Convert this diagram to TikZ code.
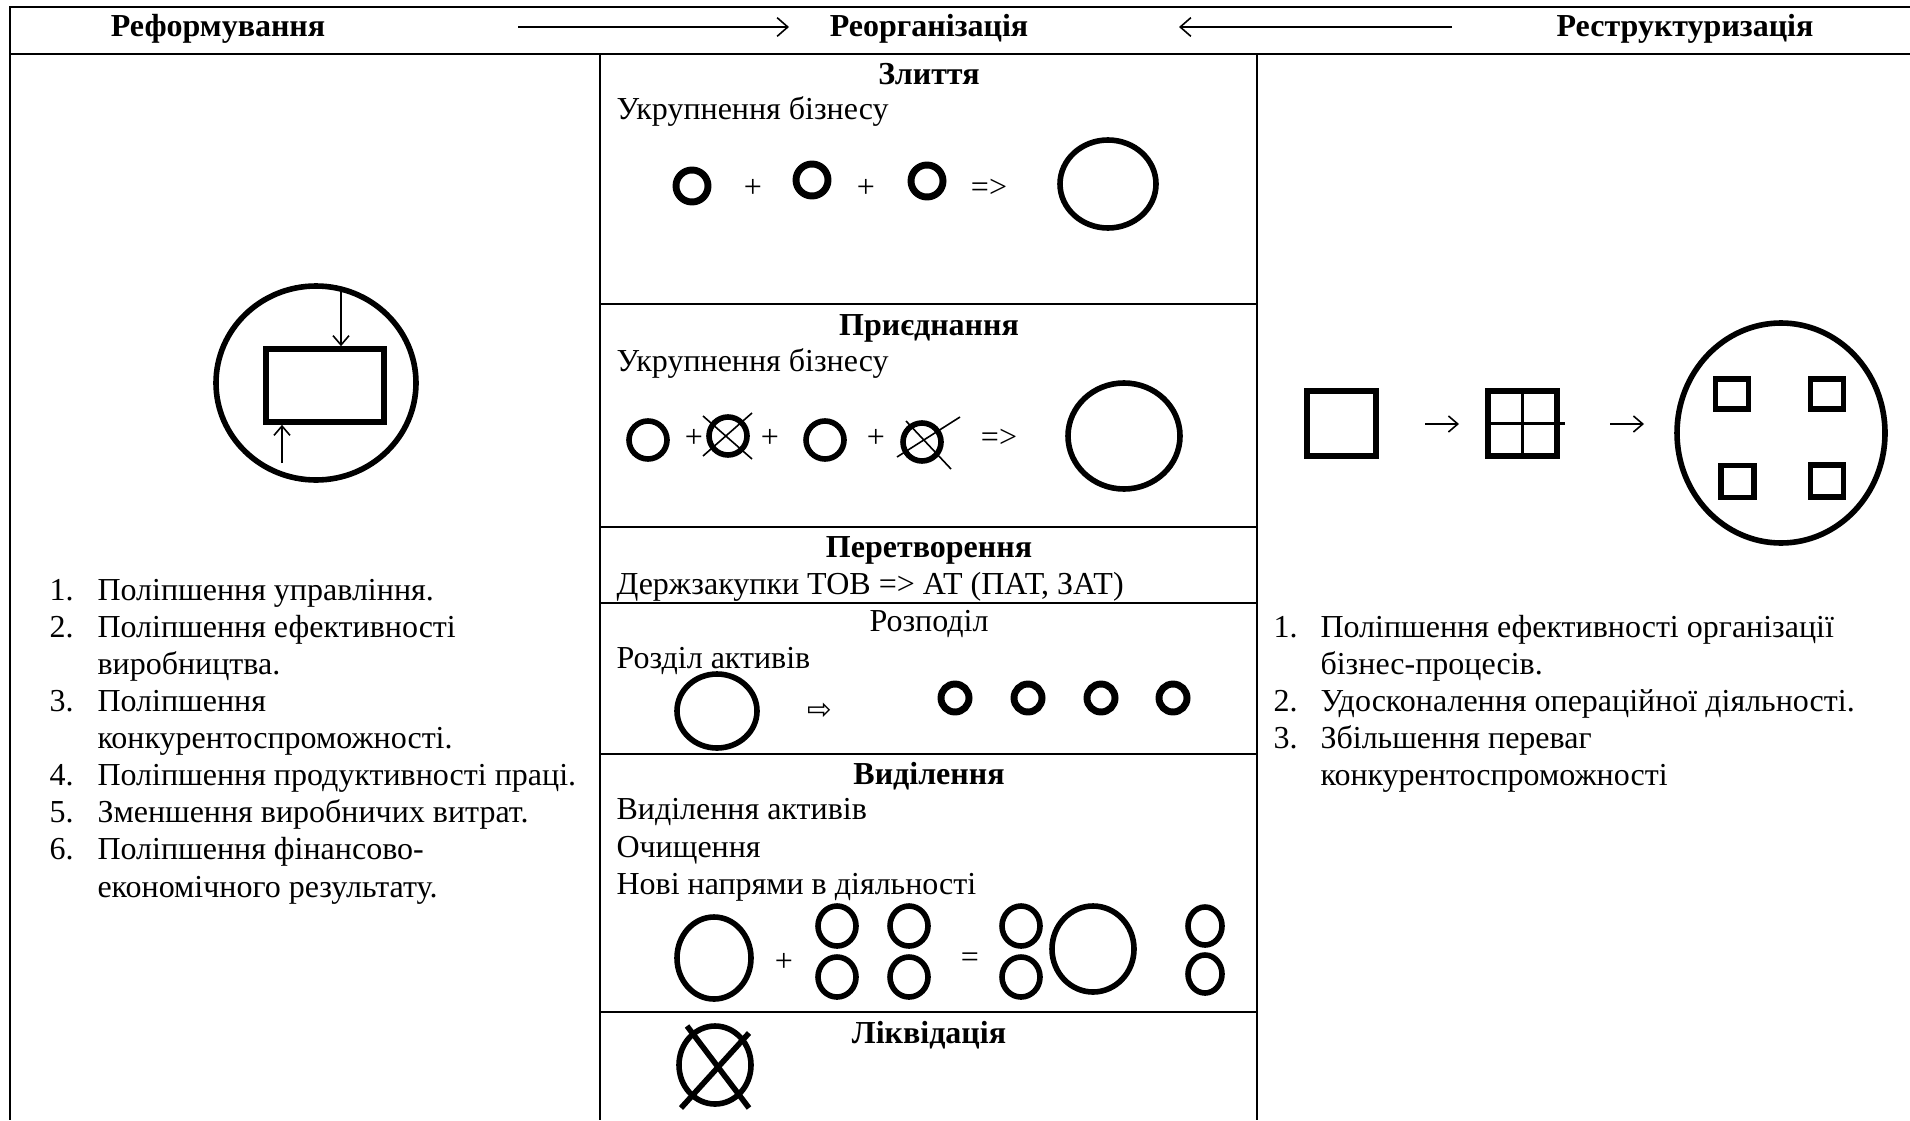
\documentclass[tikz,border=0pt]{standalone}
\usepackage{fontspec}
\setmainfont{Liberation Serif}[Scale=1.2]
\newfontfamily\symfont{DejaVu Sans}
\usetikzlibrary{arrows.meta,shapes.geometric}

% ring: #1 name, #2 position, #3 x-radius, #4 y-radius (in px units)
\newcommand\ringat[4]{\node[ring, minimum width=#3*0.75pt, minimum height=#4*0.75pt] (#1) at #2 {};}
\newcommand\dotat[4]{\node[ring, bold ring, minimum width=#3*0.75pt, minimum height=#4*0.75pt] (#1) at #2 {};}
\newcommand\boxat[4]{\node[sqbox, minimum width=#3*0.375pt, minimum height=#4*0.375pt] (#1) at #2 {};}

\begin{document}
\begin{tikzpicture}[x=0.375pt,y=-0.375pt,
  rule/.style={line width=1.1pt},
  ring/.style={draw, ellipse, line width=2.1pt, inner sep=0pt},
  bold ring/.style={line width=2.6pt},
  sqbox/.style={draw, rectangle, line width=2.1pt, inner sep=0pt},
  head/.style={font=\bfseries, anchor=base, inner sep=0pt},
  txt/.style={anchor=base west, inner sep=0pt},
  num/.style={anchor=base west, inner sep=0pt},
  sign/.style={inner sep=0pt},
  barb/.style={-{Straight Barb[length=4pt,width=7pt]}, line width=0.6pt},
  small barb/.style={-{Straight Barb[length=3.5pt,width=6pt]}, line width=0.6pt},
  cross/.style={line width=0.6pt},
  heavy cross/.style={line width=2.1pt}
]
\useasboundingbox (0,0) rectangle (1910,1120);
\fill[white] (0,0) rectangle (1910,1120);

% ---------- table grid ----------
\draw[rule] (1910,7) -- (10,7) -- (10,1120);
\draw[rule] (10,54) -- (1910,54);
\draw[rule] (600,54) -- (600,1120);
\draw[rule] (1257,54) -- (1257,1120);
\foreach \yy in {304,527,603,754,1012}
  \draw[rule] (600,\yy) -- (1257,\yy);

% ---------- header row ----------
\node[head] (hRef) at (218,37) {Реформування};
\node[head] (hReo) at (929,37) {Реорганізація};
\node[head] (hRes) at (1685,37) {Реструктуризація};
\coordinate (a1s) at (518,27);
\coordinate (a1e) at (789,27);
\coordinate (a2s) at (1452,27);
\coordinate (a2e) at (1179,27);
\draw[barb] (a1s) -- (a1e);
\draw[barb] (a2s) -- (a2e);

% ---------- left column: reforming ----------
\ringat{refRing}{(316,383)}{100}{97}
\node[sqbox, minimum width=118*0.375pt, minimum height=73*0.375pt] (refBox) at (325,385.5) {};
\coordinate (inTop) at (341,287);
\coordinate (inBot) at (282,463);
\draw[small barb] (inTop) -- (inTop |- refBox.north);
\draw[small barb] (inBot) -- (inBot |- refBox.south);

\node[num] (l1n) at (49,600) {1.};
\node[txt] (l1t) at (97,600) {Поліпшення управління.};
\node[num] (l2n) at (49,637) {2.};
\node[txt] (l2t) at (97,637) {Поліпшення ефективності};
\node[txt] (l2u) at (97,674) {виробництва.};
\node[num] (l3n) at (49,711) {3.};
\node[txt] (l3t) at (97,711) {Поліпшення};
\node[txt] (l3u) at (97,748) {конкурентоспроможності.};
\node[num] (l4n) at (49,785) {4.};
\node[txt] (l4t) at (97,785) {Поліпшення продуктивності праці.};
\node[num] (l5n) at (49,822) {5.};
\node[txt] (l5t) at (97,822) {Зменшення виробничих витрат.};
\node[num] (l6n) at (49,859) {6.};
\node[txt] (l6t) at (97,859) {Поліпшення фінансово-};
\node[txt] (l6u) at (97,897) {економічного результату.};

% ---------- middle column: reorganisation ----------
% merger
\node[head] (mergeH) at (929,85) {Злиття};
\node[txt] (mergeT) at (616,120) {Укрупнення бізнесу};
\dotat{mA}{(692,186)}{16}{16}
\node[sign] (mP1) at (753,188) {+};
\dotat{mB}{(812,180)}{16}{16}
\node[sign] (mP2) at (866,188) {+};
\dotat{mC}{(927,181)}{16}{16}
\node[sign] (mImp) at (989,188) {=>};
\ringat{mBig}{(1108,184)}{48}{44}

% accession
\node[head] (accH) at (929,335) {Приєднання};
\node[txt] (accT) at (616,371) {Укрупнення бізнесу};
\ringat{aA}{(648,440)}{19}{19}
\node[sign] (aP1) at (694,438) {+};
\ringat{aX}{(728,436)}{19}{19}
\draw[cross] ([shift={(-25,-20)}]aX.center) -- ([shift={(24,23)}]aX.center);
\draw[cross] ([shift={(-25,20)}]aX.center) -- ([shift={(24,-23)}]aX.center);
\node[sign] (aP2) at (770,438) {+};
\ringat{aB}{(825,440)}{19}{19}
\node[sign] (aP3) at (876,438) {+};
\ringat{aY}{(922,442)}{19}{19}
\draw[cross] ([shift={(-16,-21)}]aY.center) -- ([shift={(29,27)}]aY.center);
\draw[cross] ([shift={(-25,15)}]aY.center) -- ([shift={(38,-25)}]aY.center);
\node[sign] (aImp) at (999,438) {=>};
\ringat{aBig}{(1124,436)}{56}{53}

% transformation
\node[head] (trH) at (929,557) {Перетворення};
\node[txt] (trT) at (616,594) {Держзакупки ТОВ => АТ (ПАТ, ЗАТ)};

% division
\node[anchor=base, inner sep=0pt] (divH) at (929,631) {Розподіл};
\node[txt] (divT) at (616,668) {Розділ активів};
\ringat{dBig}{(717,711)}{40}{37}
\node[sign, font=\symfont\fontsize{11}{12}\selectfont] (dArr) at (820,711) {⇨};
\dotat{dA}{(955,698)}{14}{14}
\dotat{dB}{(1028,698)}{14}{14}
\dotat{dC}{(1101,698)}{14}{14}
\dotat{dD}{(1173,698)}{14}{14}

% spin-off
\node[head] (spH) at (929,784) {Виділення};
\node[txt] (spT1) at (616,819) {Виділення активів};
\node[txt] (spT2) at (616,857) {Очищення};
\node[txt] (spT3) at (616,894) {Нові напрями в діяльності};
\ringat{sBig}{(714,958)}{37}{41}
\node[sign] (sPlus) at (784,962) {+};
\ringat{sA}{(837,926)}{19}{20}
\ringat{sB}{(909,926)}{19}{20}
\ringat{sC}{(837,977)}{19}{20}
\ringat{sD}{(909,977)}{19}{20}
\node[sign] (sEq) at (970,960) {=};
\ringat{sE}{(1021,926)}{19}{20}
\ringat{sF}{(1021,977)}{19}{20}
\ringat{sBig2}{(1093,949)}{41}{43}
\ringat{sG}{(1205,926)}{17}{19}
\ringat{sH}{(1205,974)}{17}{19}

% liquidation
\node[head] (liqH) at (929,1043) {Ліквідація};
\ringat{qX}{(715,1065)}{36}{39}
\draw[heavy cross] ([shift={(-28,-39)}]qX.center) -- ([shift={(34,43)}]qX.center);
\draw[heavy cross] ([shift={(-34,43)}]qX.center) -- ([shift={(34,-32)}]qX.center);

% ---------- right column: restructuring ----------
\boxat{rOne}{(1341.5,423.5)}{69}{65}
\coordinate (r1s) at (1425,424);
\coordinate (r1e) at (1459,424);
\draw[small barb] (r1s) -- (r1e);
\boxat{rTwo}{(1522.5,423.5)}{69}{65}
\draw[line width=0.9pt] (rTwo.north) -- (rTwo.south);
\draw[line width=0.9pt] (rTwo.west) -- ([xshift=2pt]rTwo.east);
\coordinate (r2s) at (1610,424);
\coordinate (r2e) at (1644,424);
\draw[small barb] (r2s) -- (r2e);
\ringat{rRing}{(1781,433)}{104}{110}
\boxat{rq1}{(1732,394)}{33}{30}
\boxat{rq2}{(1827,394)}{33}{30}
\boxat{rq3}{(1737.5,481.5)}{33}{32}
\boxat{rq4}{(1827,481)}{33}{32}

\node[num] (r1n) at (1273,637) {1.};
\node[txt] (r1t) at (1320,637) {Поліпшення ефективності організації};
\node[txt] (r1u) at (1320,674) {бізнес-процесів.};
\node[num] (r2n) at (1273,711) {2.};
\node[txt] (r2t) at (1320,711) {Удосконалення операційної діяльності.};
\node[num] (r3n) at (1273,748) {3.};
\node[txt] (r3t) at (1320,748) {Збільшення переваг};
\node[txt] (r3u) at (1320,785) {конкурентоспроможності};
\end{tikzpicture}
\end{document}
